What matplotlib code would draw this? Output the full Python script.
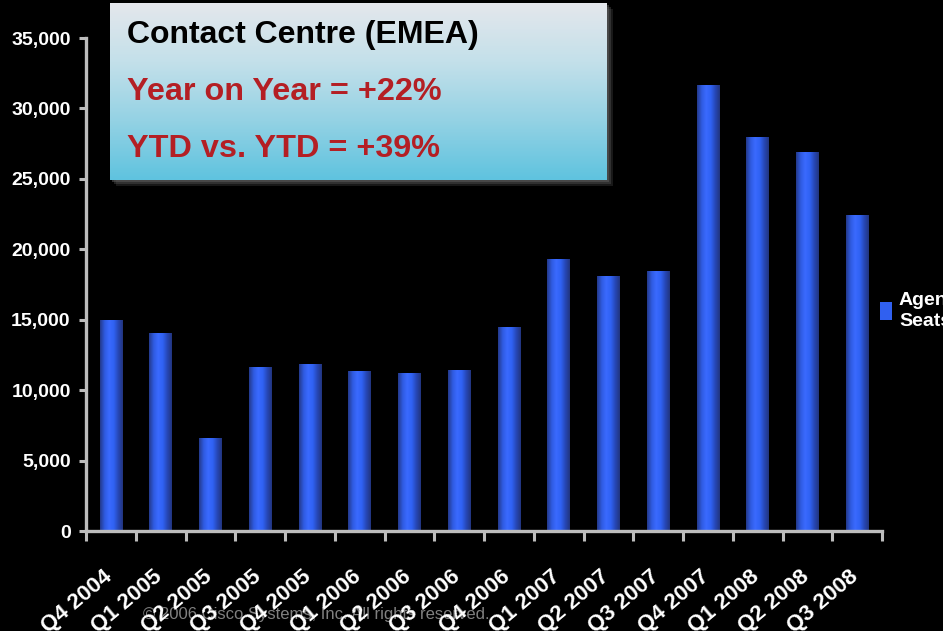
import numpy as np
import matplotlib.pyplot as plt
from matplotlib.colors import LinearSegmentedColormap
from matplotlib.patches import Rectangle, Patch
from matplotlib.transforms import ScaledTranslation

plt.rcParams['font.family'] = ['Liberation Sans', 'DejaVu Sans']

quarters = ['Q4 2004', 'Q1 2005', 'Q2 2005', 'Q3 2005', 'Q4 2005',
            'Q1 2006', 'Q2 2006', 'Q3 2006', 'Q4 2006',
            'Q1 2007', 'Q2 2007', 'Q3 2007', 'Q4 2007',
            'Q1 2008', 'Q2 2008', 'Q3 2008']
agent_seats = [15000, 14050, 6600, 11650, 11850,
               11350, 11200, 11450, 14500,
               19300, 18100, 18450, 31650,
               28000, 26900, 22450]
y_ticks = [0, 5000, 10000, 15000, 20000, 25000, 30000, 35000]

title = 'Contact Centre (EMEA)'
stats = ['Year on Year = +22%', 'YTD vs. YTD = +39%']
copyright_text = '\u00a9 2006 Cisco Systems, Inc. All rights reserved.'

axis_grey = '#bdbdbd'
bar_cmap = LinearSegmentedColormap.from_list(
    'bar', ['#243a8c', '#2f5be0', '#3a6aff', '#3062f4', '#2748b8', '#22357f'])
box_cmap = LinearSegmentedColormap.from_list(
    'box', ['#e4e7ec', '#c3e0ea', '#94d2e4', '#5fc3df'])

fig = plt.figure(figsize=(9.43, 6.31), dpi=100, facecolor='black')
ax = fig.add_axes([86 / 943, 1 - 531 / 631, 796 / 943, 493 / 631])
ax.set_facecolor('none')

x = np.arange(len(quarters))
bars = ax.bar(x, agent_seats, width=0.45, color='#3060f0', zorder=2)

# horizontal shading on each bar
grad = np.linspace(0, 1, 64).reshape(1, -1)
for b in bars:
    x0, w, h = b.get_x(), b.get_width(), b.get_height()
    im = ax.imshow(grad, cmap=bar_cmap, aspect='auto', zorder=3,
                   extent=[x0, x0 + w, 0, h])
    im.set_clip_path(b)

ax.set_xlim(-0.5, len(quarters) - 0.5)
ax.set_ylim(0, 35000)

for side in ['top', 'right']:
    ax.spines[side].set_visible(False)
for side in ['left', 'bottom']:
    ax.spines[side].set_color(axis_grey)
    ax.spines[side].set_linewidth(2.4)
    ax.spines[side].set_zorder(4)

ax.set_yticks(y_ticks)
ax.set_yticklabels([f'{v:,}' for v in y_ticks])
ax.tick_params(axis='y', direction='out', length=5, width=2.2, color=axis_grey,
               labelcolor='white', labelsize=14, pad=6)
for lab in ax.get_yticklabels():
    lab.set_fontweight('bold')

ax.set_xticks(np.arange(len(quarters) + 1) - 0.5)
ax.set_xticklabels([])
ax.tick_params(axis='x', which='major', direction='out', length=7, width=2.2,
               color=axis_grey)
ax.set_xticks(x, minor=True)
ax.set_xticklabels(quarters, minor=True, rotation=40, ha='right', va='top',
                   rotation_mode='anchor', color='white', fontsize=16,
                   fontweight='bold')
ax.tick_params(axis='x', which='minor', length=0, pad=25)
shift = ScaledTranslation(-0.08, 0, fig.dpi_scale_trans)
for lab in ax.get_xticklabels(minor=True):
    lab.set_transform(lab.get_transform() + shift)

# legend at the right edge
handle = Patch(facecolor='#3060f0', edgecolor='none')
leg = fig.legend([handle], ['Agent\nSeats'], loc='center left',
                 bbox_to_anchor=(862 / 943, 1 - 311 / 631), frameon=False,
                 handlelength=0.65, handleheight=1.0, handletextpad=0.35,
                 prop={'size': 14, 'weight': 'bold'}, labelcolor='white')
for t in leg.get_texts():
    t.set_linespacing(1.35)

# callout box with gradient fill
bx, by, bw, bh = 110, 3, 497, 177
for i, a in enumerate([0.25, 0.35, 0.5]):
    off = 6 - i * 2
    fig.patches.append(Rectangle(((bx + off) / 943, 1 - (by + bh + off) / 631),
                                 bw / 943, bh / 631, transform=fig.transFigure,
                                 facecolor='#606060', edgecolor='none',
                                 alpha=a, zorder=5))
box = fig.add_axes([bx / 943, 1 - (by + bh) / 631, bw / 943, bh / 631], zorder=6)
box.imshow(np.linspace(0, 1, 128).reshape(-1, 1), cmap=box_cmap,
           aspect='auto', extent=[0, 1, 0, 1])
box.set_xlim(0, 1)
box.set_ylim(0, 1)
box.axis('off')

box.text(17 / bw, 1 - 40 / bh, title, fontsize=23, fontweight='bold',
         color='black', va='baseline')
for k, s in enumerate(stats):
    box.text(17 / bw, 1 - (97 + 57 * k) / bh, s, fontsize=23.3,
             fontweight='bold', color='#b41f24', va='baseline')

fig.text(143 / 943, 1 - 619 / 631, copyright_text, fontsize=12,
         color='#808080', va='baseline', zorder=-1)

fig.savefig('out.png', dpi=100, facecolor='black')
